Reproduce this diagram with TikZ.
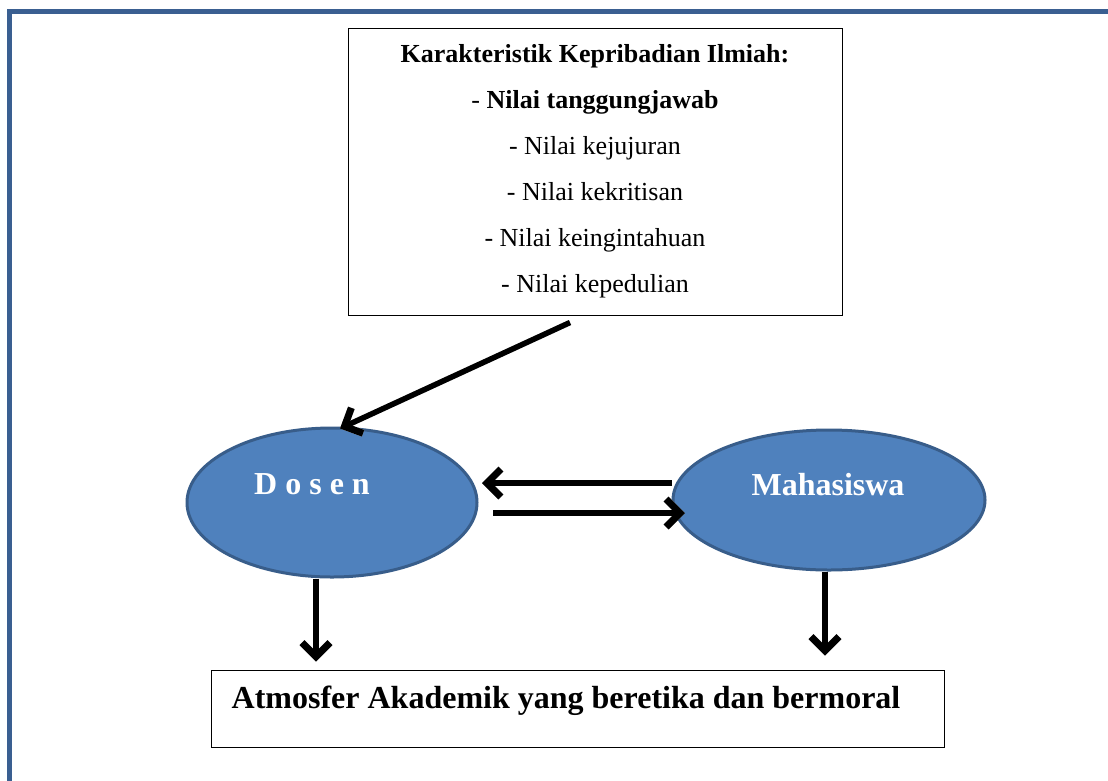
\documentclass[tikz,border=0pt]{standalone}
\usepackage{fontspec}
\setmainfont{Liberation Serif}
\usetikzlibrary{shapes.geometric,arrows.meta,calc}
\definecolor{frameblue}{RGB}{58,95,145}
\definecolor{ellfill}{RGB}{79,129,189}
\definecolor{ellline}{RGB}{56,93,138}
\tikzset{
  flowarrow/.style={line width=5.5pt,-{Straight Barb[length=14pt,width=28pt,line width=7pt]}},
  shadowarrow/.style={line width=5.5pt,black!20,-{Straight Barb[length=14pt,width=28pt,line width=7pt]}},
  blob/.style={ellipse,draw=ellline,line width=3pt,fill=ellfill,inner sep=0pt},
  plainbox/.style={draw=black,line width=1pt,fill=white,inner sep=0pt},
  whitelabel/.style={text=white,font=\fontsize{32}{38}\selectfont\bfseries},
}
\begin{document}
\begin{tikzpicture}[x=1pt,y=-1pt]
\useasboundingbox (0,0) rectangle (1108,780);
\fill[white] (0,0) rectangle (1108,780);
% outer frame
\draw[frameblue,line width=5pt] (9.5,800) -- (9.5,11) -- (1130,11);
% top box
\node[plainbox,minimum width=494pt,minimum height=287pt] (top) at (595,171.5) {};
\node[align=center,font=\fontsize{26}{46}\selectfont] (toptext) at (top.center) {%
\textbf{Karakteristik Kepribadian Ilmiah:}\\
- \textbf{Nilai tanggungjawab}\\
- Nilai kejujuran\\
- Nilai kekritisan\\
- Nilai keingintahuan\\
- Nilai kepedulian};
% ellipses
\node[blob,minimum width=290pt,minimum height=149pt] (dosen) at (332,502.5) {};
\node[whitelabel] (dosenlabel) at ($(dosen.center)+(-20,-18)$) {D o s e n};
\node[blob,minimum width=312pt,minimum height=140pt] (maha) at (829,500) {};
\node[whitelabel] (mahalabel) at ($(maha.center)+(-1,-15)$) {Mahasiswa};
% bottom box
\node[plainbox,minimum width=733pt,minimum height=77pt] (atm) at (577.5,708.5) {};
\node[anchor=west,font=\fontsize{32}{38}\selectfont\bfseries,inner sep=0pt] (atmtext) at ($(atm.west)+(21,-8)$) {Atmosfer Akademik yang beretika dan bermoral};
% connector coordinates
\coordinate (a1s) at ($(top.south)+(-25,7)$);
\coordinate (a1e) at ($(dosen.north)+(8,2)$);
\coordinate (a2s) at ($(maha.center)+(-157,-17)$);
\coordinate (a2e) at ($(dosen.center)+(150,-19.5)$);
\coordinate (a3s) at ($(dosen.center)+(161,10.5)$);
\coordinate (a3e) at ($(maha.center)+(-144,13)$);
\coordinate (a4s) at ($(dosen.south)+(-16,0)$);
\coordinate (a4e) at ($(atm.north)+(-261.5,-8)$);
\coordinate (a5s) at ($(maha.south)+(-4,0)$);
\coordinate (a5e) at ($(atm.north)+(247.5,-14)$);
% shadows
\begin{scope}[shift={(2,3)}]
\draw[shadowarrow] (a1s) -- (a1e);
\draw[shadowarrow] (a2s) -- (a2e);
\draw[shadowarrow] (a3s) -- (a3e);
\draw[shadowarrow] (a4s) -- (a4e);
\draw[shadowarrow] (a5s) -- (a5e);
\end{scope}
% arrows
\draw[flowarrow] (a1s) -- (a1e);
\draw[flowarrow] (a2s) -- (a2e);
\draw[flowarrow] (a3s) -- (a3e);
\draw[flowarrow] (a4s) -- (a4e);
\draw[flowarrow] (a5s) -- (a5e);
\end{tikzpicture}
\end{document}
